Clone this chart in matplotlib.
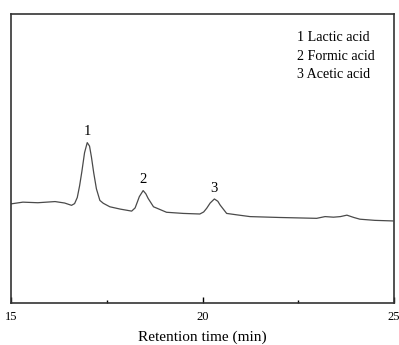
import matplotlib
matplotlib.use("Agg")
import matplotlib.pyplot as plt
from matplotlib.ticker import MultipleLocator

plt.rcParams['font.family'] = ['Liberation Serif', 'DejaVu Serif']

# Retention time (min) and detector signal (a.u.)
time = [15.00, 15.31, 15.70, 16.15, 16.40, 16.58, 16.66, 16.73, 16.79, 16.85, 16.92,
        16.99, 17.05, 17.10, 17.16, 17.23, 17.32, 17.41, 17.58, 17.85, 18.15,
        18.24, 18.30, 18.35, 18.45, 18.52, 18.58, 18.72, 19.06, 19.50, 19.93,
        20.03, 20.11, 20.20, 20.31, 20.40, 20.46, 20.63, 20.90, 21.24, 22.00,
        22.98, 23.20, 23.42, 23.60, 23.77, 23.95, 24.11, 24.50, 24.97]
signal = [34.3, 34.9, 34.7, 35.1, 34.6, 33.8, 34.4, 36.5, 40.5, 45.5, 52.0,
          55.5, 54.3, 50.5, 45.0, 39.5, 35.5, 34.5, 33.3, 32.5, 31.8,
          32.9, 35.0, 36.8, 38.9, 37.8, 36.2, 33.3, 31.4, 31.0, 30.8,
          31.5, 32.8, 34.6, 36.0, 35.2, 33.9, 31.0, 30.5, 29.9, 29.6,
          29.3, 29.9, 29.7, 29.9, 30.4, 29.6, 29.0, 28.6, 28.4]

peak_labels = ['1', '2', '3']
peak_times = [16.99, 18.45, 20.31]
peak_heights = [55.5, 38.9, 36.0]
legend_lines = ['1 Lactic acid', '2 Formic acid', '3 Acetic acid']

fig = plt.figure(figsize=(3.99, 3.45), dpi=100)
ax = fig.add_axes([0.0276, 0.1217, 0.9599, 0.8377])
ax.plot(time, signal, color='#4a4a4a', lw=0.9)
ax.set_xlim(15, 25)
ax.set_ylim(0, 100)
ax.set_yticks([])
ax.xaxis.set_major_locator(MultipleLocator(5))
ax.xaxis.set_minor_locator(MultipleLocator(2.5))
ax.tick_params(axis='x', which='major', direction='in', length=4, width=1, labelsize=9, pad=5.5)
ax.tick_params(axis='x', which='minor', direction='in', length=2.5, width=1)
for sp in ax.spines.values():
    sp.set_linewidth(1.2)
    sp.set_color('#333333')
ax.set_xlabel('Retention time (min)', fontsize=11, labelpad=6)

for lab, t, h in zip(peak_labels, peak_times, peak_heights):
    ax.annotate(lab, (t, h), xytext=(0, 3), textcoords='offset points',
                ha='center', va='bottom', fontsize=10.5)

for i, line in enumerate(legend_lines):
    fig.text(0.7436, 0.882 - i * 0.0545, line, ha='left', va='baseline', fontsize=10.1)

fig.savefig('out.png', dpi=100)
